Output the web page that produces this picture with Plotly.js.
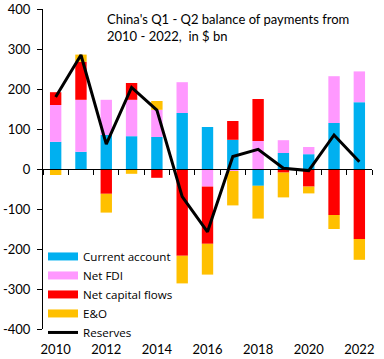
<!DOCTYPE html>
<html>
<head>
<meta charset="utf-8">
<script src="https://cdn.plot.ly/plotly-3.0.1.min.js"></script>
<style>html,body{margin:0;padding:0;background:#fff;}#chart{width:384px;height:359px;}</style>
</head>
<body>
<div id="chart"></div>
<script>
var years = [2010, 2011, 2012, 2013, 2014, 2015, 2016, 2017, 2018, 2019, 2020, 2021, 2022];
var currentAccount = [68, 43, 85, 82, 80, 140, 105, 73, -42, 40, 37, 115, 167];
var netFDI = [92, 130, 88, 91, 68, 77, -44, -5, 70, 32, 18, 117, 77];
var netCapitalFlows = [32, 95, -62, 42, -22, -217, -143, 47, 105, -9, -44, -115, -175];
var errorsOmissions = [-15, 18, -47, -12, 22, -69, -77, -86, -82, -62, -17, -35, -52];
var reserves = [180, 285, 62, 204, 147, -69, -157, 31, 49, 2, -4, 85, 18];

var seriesNames = ['Current account', 'Net FDI', 'Net capital flows', 'E&O', 'Reserves'];
var seriesColors = ['#00b0f0', '#ff99ff', '#ff0000', '#ffc000', '#000000'];

var xTickVals = [2010, 2012, 2014, 2016, 2018, 2020, 2022];
var xTickText = ['2010', '2012', '2014', '2016', '2018', '2020', '2022'];
var yTickVals = [-400, -300, -200, -100, 0, 100, 200, 300, 400];
var yTickText = ['-400', '-300', '-200', '-100', '0', '100', '200', '300', '400'];
var boundaryTicks = years.map(function (y) { return y - 0.5; }).concat([years[years.length - 1] + 0.5]);

var barSeries = [currentAccount, netFDI, netCapitalFlows, errorsOmissions];
var traces = [];
barSeries.forEach(function (vals, i) {
  traces.push({
    type: 'bar', x: years, y: vals, name: seriesNames[i],
    marker: {color: seriesColors[i], line: {width: 0}},
    showlegend: false, legendgroup: 'g' + i, hoverinfo: 'x+y+name'
  });
});
traces.push({
  type: 'scatter', mode: 'lines', x: years, y: reserves, name: seriesNames[4],
  line: {color: seriesColors[4], width: 3}, showlegend: false, legendgroup: 'g4'
});
// legend entries (wide swatches)
for (var i = 0; i < 5; i++) {
  traces.push({
    type: 'scatter', mode: 'lines', x: [null], y: [null], name: seriesNames[i],
    xaxis: 'x2', legendgroup: 'g' + i,
    line: {color: seriesColors[i], width: i < 4 ? 8 : 3}, hoverinfo: 'skip'
  });
}

var fontFam = 'Lato, "Open Sans", sans-serif';
var layout = {
  width: 384, height: 359,
  margin: {l: 43, r: 12, t: 9, b: 30, pad: 0},
  paper_bgcolor: '#ffffff', plot_bgcolor: '#ffffff',
  font: {family: fontFam, size: 13, color: '#000000'},
  barmode: 'relative', bargap: 0.55,
  showlegend: true,
  legend: {x: 0.0, y: 0.272, xanchor: 'left', yanchor: 'top', bgcolor: 'rgba(0,0,0,0)',
           font: {family: '"Open Sans", sans-serif', size: 11.6, color: '#000'}, traceorder: 'normal',
           tracegroupgap: 0, itemclick: false, itemdoubleclick: false},
  xaxis: {range: [2009.5, 2022.5], tickvals: xTickVals, ticktext: xTickText,
          ticks: '', showline: false, showgrid: false, zeroline: false,
          ticklabelstandoff: 11, tickfont: {size: 13}},
  xaxis2: {overlaying: 'x', anchor: 'free', position: 0.5, range: [2009.5, 2022.5],
           tickvals: boundaryTicks, ticks: 'outside', ticklen: 5, tickcolor: '#000',
           showticklabels: false, showline: true, linecolor: '#000', linewidth: 1,
           showgrid: false, zeroline: false},
  yaxis: {range: [-400, 400], tickvals: yTickVals, ticktext: yTickText,
          ticks: 'outside', ticklen: 5, tickcolor: '#000', showline: true,
          linecolor: '#000', linewidth: 1, showgrid: false, zeroline: false,
          tickfont: {size: 13}, ticklabelstandoff: 4},
  annotations: [{
    xref: 'paper', yref: 'paper', x: 0.188, y: 1, xanchor: 'left', yanchor: 'top',
    align: 'left', showarrow: false,
    text: "China's Q1 - Q2 balance of payments from<br>2010 - 2022,  in $ bn",
    font: {family: fontFam, size: 13, color: '#000'}
  }]
};
Plotly.newPlot('chart', traces, layout, {displayModeBar: false, staticPlot: true});
</script>
</body>
</html>
